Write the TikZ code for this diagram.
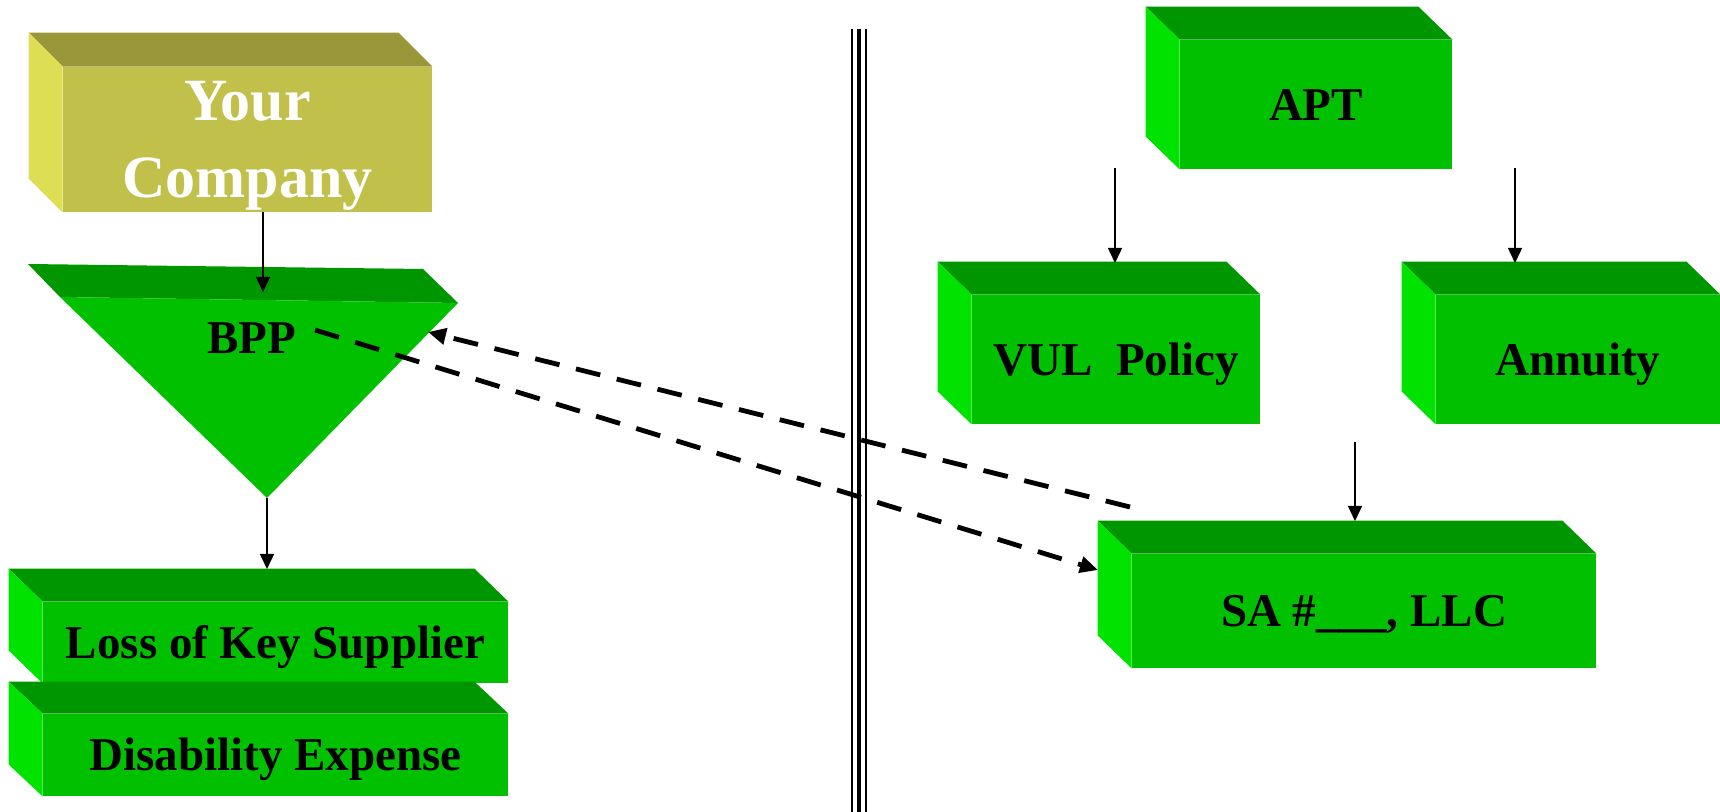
\documentclass[tikz,border=0pt]{standalone}
\usepackage{fontspec}
\setmainfont{Liberation Serif}
\usetikzlibrary{arrows.meta}
\definecolor{gfront}{RGB}{0,192,0}
\definecolor{gtop}{RGB}{0,150,0}
\definecolor{gleft}{RGB}{0,226,0}
\definecolor{yfront}{RGB}{192,192,74}
\definecolor{ytop}{RGB}{153,151,58}
\definecolor{yleft}{RGB}{222,222,85}
\newcommand\boxfaces[5]{%
  \fill[#4] (#1.north west) -- ++(-#2,-#3) -- ([shift={(-#2,-#3)}]#1.north east) -- (#1.north east) -- cycle;
  \fill[#5] (#1.north west) -- ++(-#2,-#3) -- ([shift={(-#2,-#3)}]#1.south west) -- (#1.south west) -- cycle;}
\begin{document}
\begin{tikzpicture}[x=0.5pt,y=-0.5pt,
  lbl/.style={inner sep=0pt, text height=15.6pt, text depth=0pt,
    font=\bfseries\fontsize{23.5}{28}\selectfont, text=black},
  gbox/.style={lbl, fill=gfront},
  ybox/.style={inner sep=0pt, fill=yfront, text=white, align=center,
    font=\bfseries\fontsize{30}{38.5}\selectfont},
  conn/.style={line width=0.75pt, -{Triangle[length=7.5pt,width=7pt]}},
  dashconn/.style={line width=2.4pt, dash pattern=on 12.5pt off 8.5pt,
    -{Triangle[length=9pt,width=8pt]}}
]
\useasboundingbox (0,0) rectangle (1720,812);

% Your Company
\node[ybox, minimum width=184.5pt, minimum height=72.5pt] (yc) at (247.5,139.5) {};
\node[ybox, fill=none, text depth=0pt] (yctext) at (247.5,139.5) {Your\\Company};
\boxfaces{yc}{34}{34}{ytop}{yleft}

% BPP triangle
\fill[gtop] (28,264) -- (423,269) -- (458,303) -- (60,297) -- cycle;
\fill[gfront] (60,297) -- (458,303) -- (267,498) -- cycle;
\node[lbl] (bpp) at (252,337.5) {BPP};

% Loss / Disability
\node[gbox, minimum width=232.5pt, minimum height=40.5pt] (loss) at (275.5,642.5) {Loss of Key Supplier};
\boxfaces{loss}{34}{33}{gtop}{gleft}
\node[gbox, minimum width=232.5pt, minimum height=41pt] (dis) at (275.5,755) {Disability Expense};
\boxfaces{dis}{34}{32}{gtop}{gleft}

% Right side
\node[gbox, minimum width=136pt, minimum height=64.5pt] (apt) at (1316,104.5) {APT};
\boxfaces{apt}{34}{33}{gtop}{gleft}
\node[gbox, minimum width=144pt, minimum height=64.5pt] (vul) at (1116,359.5) {VUL\ \ Policy};
\boxfaces{vul}{34}{33}{gtop}{gleft}
\node[gbox, minimum width=142pt, minimum height=64.5pt] (ann) at (1578,359.5) {Annuity};
\boxfaces{ann}{34}{33}{gtop}{gleft}
\node[gbox, minimum width=232pt, minimum height=57pt] (sa) at (1364,611) {SA \#\_\_\_, LLC};
\boxfaces{sa}{34}{33}{gtop}{gleft}

% triple divider
\coordinate (divtop) at (859,29);
\coordinate (divbot) at (859,812);
\draw[line width=1.2pt] ([xshift=-3.4pt]divtop) -- ([xshift=-3.4pt]divbot);
\draw[line width=2.3pt] (divtop) -- (divbot);
\draw[line width=0.9pt] ([xshift=3.5pt]divtop) -- ([xshift=3.5pt]divbot);

% solid connectors
\coordinate (ycout) at (263,212);
\coordinate (bppin) at (263,292);
\coordinate (bppapex) at (267,498);
\coordinate (lossin) at (267,569);
\coordinate (aptL) at (1115,168);
\coordinate (vulin) at (1115,263);
\coordinate (aptR) at (1515,168);
\coordinate (annin) at (1515,263);
\coordinate (saout) at (1355,442);
\coordinate (sain) at (1355,521);
\draw[conn] (ycout) -- (bppin);
\draw[conn] (bppapex) -- (lossin);
\draw[conn] (aptL) -- (vulin);
\draw[conn] (aptR) -- (annin);
\draw[conn] (saout) -- (sain);

% dashed connectors
\coordinate (saup) at (1130,507);
\coordinate (bpptip) at (428,332);
\coordinate (bppout) at (315,330);
\coordinate (saleft) at (1098,570);
\draw[dashconn] (saup) -- (bpptip);
\draw[dashconn] (bppout) -- (saleft);
\end{tikzpicture}
\end{document}
